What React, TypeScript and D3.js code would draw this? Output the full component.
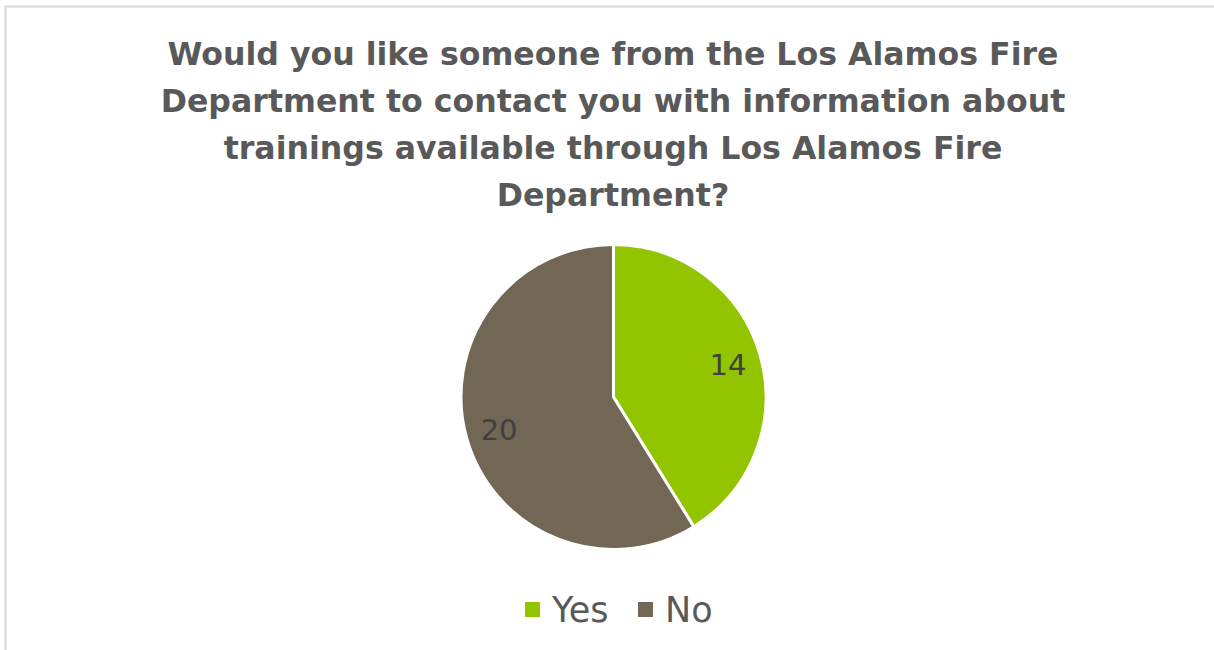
import React from "react";
import * as d3 from "d3";

const categories = ["Yes", "No"];
const values = [14, 20];
const colors = ["#92C400", "#726655"];
const titleLines = [
  "Would you like someone from the Los Alamos Fire",
  "Department to contact you with information about",
  "trainings available through Los Alamos Fire",
  "Department?",
];

export default function App() {
  const W = 1214, H = 650;
  const cx = 613.5, cy = 397, r = 152.5;
  const pie = d3.pie<number>().sort(null).value((d) => d)(values);
  const arc = d3.arc<d3.PieArcDatum<number>>().innerRadius(0).outerRadius(r);
  const labelArc = d3.arc<d3.PieArcDatum<number>>().innerRadius(r * 0.78).outerRadius(r * 0.78);
  const titleFont = "'DejaVu Sans', sans-serif";
  const legendX = [525, 638];
  return (
    <svg width={W} height={H} style={{ position: "absolute", left: 0, top: 0 }}>
      <rect x={5.5} y={6.5} width={1240} height={700} fill="#fff" stroke="#d9d9d9" strokeWidth={2} />
      <g fontFamily={titleFont} fontWeight="bold" fontSize={31.6} fill="#595959" textAnchor="middle">
        {titleLines.map((t, i) => (
          <text key={i} x={613} y={65 + i * 47}>{t}</text>
        ))}
      </g>
      <g transform={`translate(${cx},${cy})`}>
        {pie.map((p, i) => (
          <path key={i} d={arc(p) || ""} fill={colors[i]} stroke="#fff" strokeWidth={3} />
        ))}
        {pie.map((p, i) => {
          const [x, y] = labelArc.centroid(p);
          return (
            <text key={i} x={x} y={y} dy="0.36em" textAnchor="middle" fontFamily={titleFont} fontSize={29} fill="#404040">
              {values[i]}
            </text>
          );
        })}
      </g>
      <g fontFamily={titleFont} fontSize={35} fill="#595959">
        {categories.map((c, i) => {
          const x0 = legendX[i];
          return (
            <g key={c}>
              <rect x={x0} y={602} width={15} height={15} fill={colors[i]} />
              <text x={x0 + 27} y={622}>{c}</text>
            </g>
          );
        })}
      </g>
    </svg>
  );
}
